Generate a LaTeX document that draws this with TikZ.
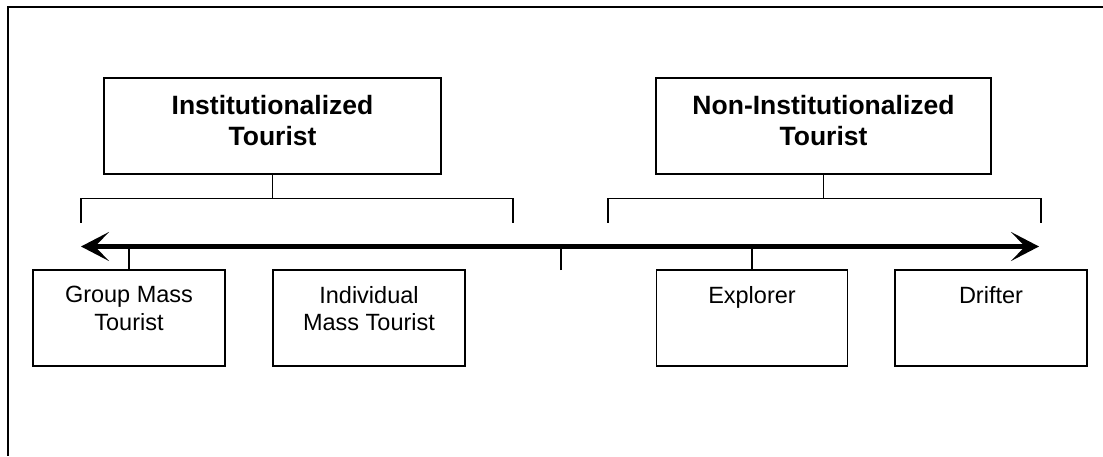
\documentclass[tikz,border=0pt]{standalone}
\usepackage{fontspec}
\setmainfont{Liberation Sans}
\usetikzlibrary{arrows.meta}
\begin{document}
\begin{tikzpicture}[x=1pt,y=-1pt,
  box/.style={draw=black, line width=1.8pt, rectangle, inner sep=0pt},
  headtxt/.style={align=center, inner sep=0pt, anchor=north, font=\fontsize{26.5}{30.5}\selectfont\bfseries},
  subtxt/.style={align=center, inner sep=0pt, anchor=north, font=\fontsize{23.5}{27.5}\selectfont},
  thin/.style={line width=1.6pt},
  axis/.style={line width=4.8pt, {Stealth[length=28pt,width=29pt,inset=14pt]}-{Stealth[length=28pt,width=29pt,inset=14pt]}}
]
\useasboundingbox (0,0) rectangle (1103,456);
% outer frame (top and left only visible)
\coordinate (frTR) at (1103,7);
\coordinate (frTL) at (8,7);
\coordinate (frBL) at (8,456);
\draw[line width=2pt] (frTR) -- (frTL) -- (frBL);

% upper boxes
\node[box, minimum width=337pt, minimum height=96pt] (inst) at (272.5,126) {};
\node[box, minimum width=335pt, minimum height=96pt] (non) at (823.5,126) {};
\node[headtxt] (instT) at (272.5,95.5) {Institutionalized\\Tourist};
\node[headtxt] (nonT) at (823.5,95.5) {Non-Institutionalized\\Tourist};

% lower boxes
\node[box, minimum width=192pt, minimum height=96pt] (gm) at (129,318) {};
\node[box, minimum width=192pt, minimum height=96pt] (im) at (369,318) {};
\node[box, minimum width=191pt, minimum height=96pt] (ex) at (752,318) {};
\node[box, minimum width=192pt, minimum height=96pt] (dr) at (991,318) {};
\node[subtxt] (gmT) at (129,286) {Group Mass\\Tourist};
\node[subtxt] (imT) at (369,286) {Individual\\Mass Tourist};
\node[subtxt] (exT) at (752,286) {Explorer};
\node[subtxt] (drT) at (991,286) {Drifter};

% brackets
\coordinate (lbL) at (81,198.5);
\coordinate (lbR) at (513,198.5);
\coordinate (lbLd) at (81,222.5);
\coordinate (lbRd) at (513,222.5);
\coordinate (rbL) at (608,198.5);
\coordinate (rbR) at (1041,198.5);
\coordinate (rbLd) at (608,222.5);
\coordinate (rbRd) at (1041,222.5);
\draw[thin] (lbLd) -- (lbL) -- (lbR) -- (lbRd);
\draw[thin] (rbLd) -- (rbL) -- (rbR) -- (rbRd);
\draw[thin] (inst.south) -- (inst.south |- lbL);
\draw[thin] (non.south) -- (non.south |- rbL);

% axis and ticks
\coordinate (aL) at (81,246.5);
\coordinate (aR) at (1039,246.5);
\coordinate (mid) at (561,270);
\draw[thin] (gm.north) -- (gm.north |- aL);
\draw[thin] (ex.north) -- (ex.north |- aL);
\draw[thin] (mid) -- (mid |- aL);
\draw[axis] (aL) -- (aR);
\end{tikzpicture}
\end{document}
